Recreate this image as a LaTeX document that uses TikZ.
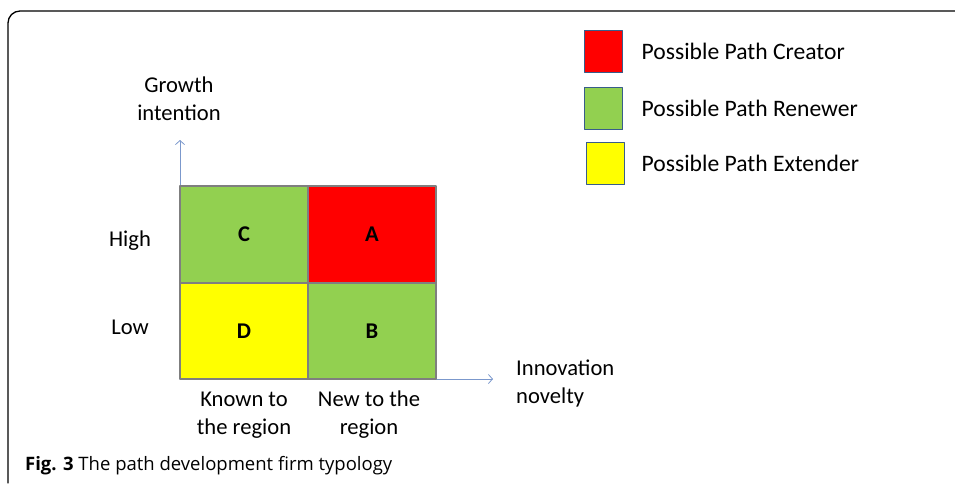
\documentclass[tikz,border=0pt]{standalone}
\usepackage{fontspec}
\setmainfont{Carlito}
\newfontfamily\capfont{Open Sans}
\usetikzlibrary{positioning,arrows.meta}
\definecolor{creatorred}{HTML}{FF0000}
\definecolor{renewergreen}{HTML}{92D050}
\definecolor{extenderyellow}{HTML}{FFFF00}
\definecolor{cellgray}{HTML}{7F7F7F}
\definecolor{keyblue}{HTML}{385D8A}
\definecolor{axisblue}{HTML}{7B98CC}
\begin{document}
\begin{tikzpicture}[x=1pt, y=-1pt, line cap=round, line join=round,
	cell/.style={draw=cellgray, line width=1.6pt, minimum width=128pt, minimum height=96.5pt, inner sep=0pt, outer sep=0pt, font=\bfseries\fontsize{22.5}{26}\selectfont},
	key/.style={draw=keyblue, line width=1.6pt, minimum width=38pt, minimum height=42pt, inner sep=0pt, outer sep=0pt},
	keytext/.style={inner sep=0pt, font=\fontsize{23.6}{28}\selectfont},
	axislabel/.style={inner sep=0pt, align=center, font=\fontsize{22.6}{28}\selectfont},
	axis/.style={draw=axisblue, line width=0.8pt, -{Straight Barb[length=4pt,width=9pt]}}]
	
	\useasboundingbox (0,0) rectangle (955,483);
	
	% Khung ngoài
	\draw[line width=1.3pt, rounded corners=12pt] (8,483) -- (8,11) -- (956,11);
	
	% Trục
	\coordinate (O) at (180,379);
	\coordinate (ytip) at (180,140);
	\coordinate (xtip) at (493,379);
	\draw[axis] (O) -- (ytip);
	\draw[axis] (O) -- (xtip);
	
	% Ô của bảng
	\node[cell, fill=renewergreen] (C) at (244,234.5) {C};
	\node[cell, fill=creatorred, right=0pt of C] (A) {A};
	\node[cell, fill=extenderyellow, below=0pt of C] (D) {D};
	\node[cell, fill=renewergreen, right=0pt of D] (B) {B};
	
	% Nhãn trục
	\node[axislabel] (growth) at (179,99) {Growth\\intention};
	\node[axislabel, align=left, anchor=west] (novelty) at (516,383) {Innovation\\novelty};
	\node[axislabel] (high) at (130,241) {High};
	\node[axislabel] (low) at (130,327) {Low};
	\node[axislabel] (known) at (244,415) {Known to\\the region};
	\node[axislabel] (new) at (369,415) {New to the\\region};
	
	% Chú giải
	\node[key, fill=creatorred] (keyA) at (603.5,51.5) {};
	\node[key, fill=renewergreen, below=15pt of keyA] (keyB) {};
	\node[key, fill=extenderyellow, below=13pt of keyB, xshift=2pt] (keyC) {};
	\node[keytext, right=19pt of keyA] (textA) {Possible Path Creator};
	\node[keytext, right=19pt of keyB] (textB) {Possible Path Renewer};
	\node[keytext, right=17pt of keyC] (textC) {Possible Path Extender};
	
	% Chú thích
	\node[anchor=west, inner sep=0pt, font=\capfont\fontsize{18.5}{22}\selectfont] (caption) at (25,466) {\textbf{Fig. 3} The path development firm typology};
	
\end{tikzpicture}
\end{document}
